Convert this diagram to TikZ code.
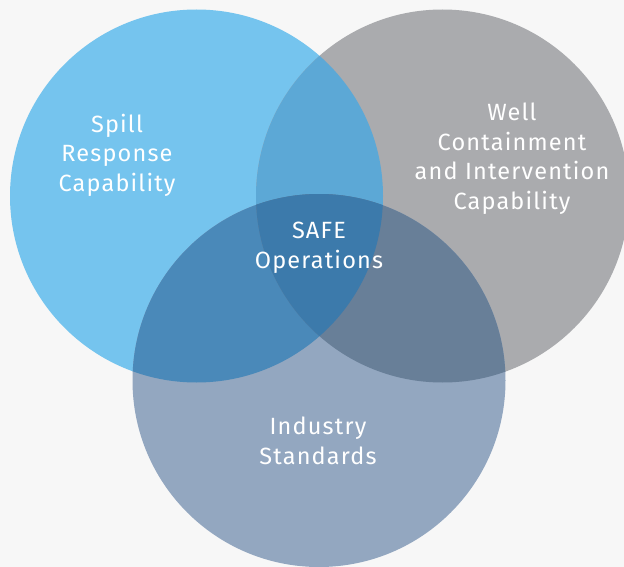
\documentclass[tikz,border=0pt]{standalone}
\usepackage{fontspec}
\setmainfont[LetterSpace=5]{Fira Sans}
\definecolor{bg}{HTML}{F7F7F7}
\definecolor{cblue}{HTML}{75C4EE}
\definecolor{cgray}{HTML}{AAABAE}
\definecolor{cbot}{HTML}{93A7C0}
\definecolor{cbg}{HTML}{5CA8D6}
\definecolor{cbb}{HTML}{4A89B9}
\definecolor{cgb}{HTML}{687F98}
\definecolor{ccen}{HTML}{3C7AAB}
\tikzset{lbl/.style={text=white, align=center, font=\fontsize{23.5}{29.5}\selectfont, inner sep=0pt}}
\begin{document}
\begin{tikzpicture}[x=1pt,y=-1pt]
\useasboundingbox (0,0) rectangle (624,567);
\fill[bg] (0,0) rectangle (624,567);
\clip (0,0) rectangle (624,567);
\def\R{186.5}
\coordinate (A) at (196.5,196);
\coordinate (B) at (442.5,196);
\coordinate (C) at (319,380.5);
\fill[cblue] (A) circle (\R);
\fill[cgray] (B) circle (\R);
\fill[cbot] (C) circle (\R);
\begin{scope}\clip (A) circle (\R); \fill[cbg] (B) circle (\R);\end{scope}
\begin{scope}\clip (A) circle (\R); \fill[cbb] (C) circle (\R);\end{scope}
\begin{scope}\clip (B) circle (\R); \fill[cgb] (C) circle (\R);\end{scope}
\begin{scope}\clip (A) circle (\R); \clip (B) circle (\R); \fill[ccen] (C) circle (\R);\end{scope}
\node[lbl] (spill) at (117,155) {Spill\\Response\\Capability};
\node[lbl] (well) at (512,158.5) {Well\\Containment\\and Intervention\\Capability};
\node[lbl] (safe) at (319,248) {SAFE\\Operations};
\node[lbl] (ind) at (318,441) {Industry\\Standards};
\end{tikzpicture}
\end{document}
